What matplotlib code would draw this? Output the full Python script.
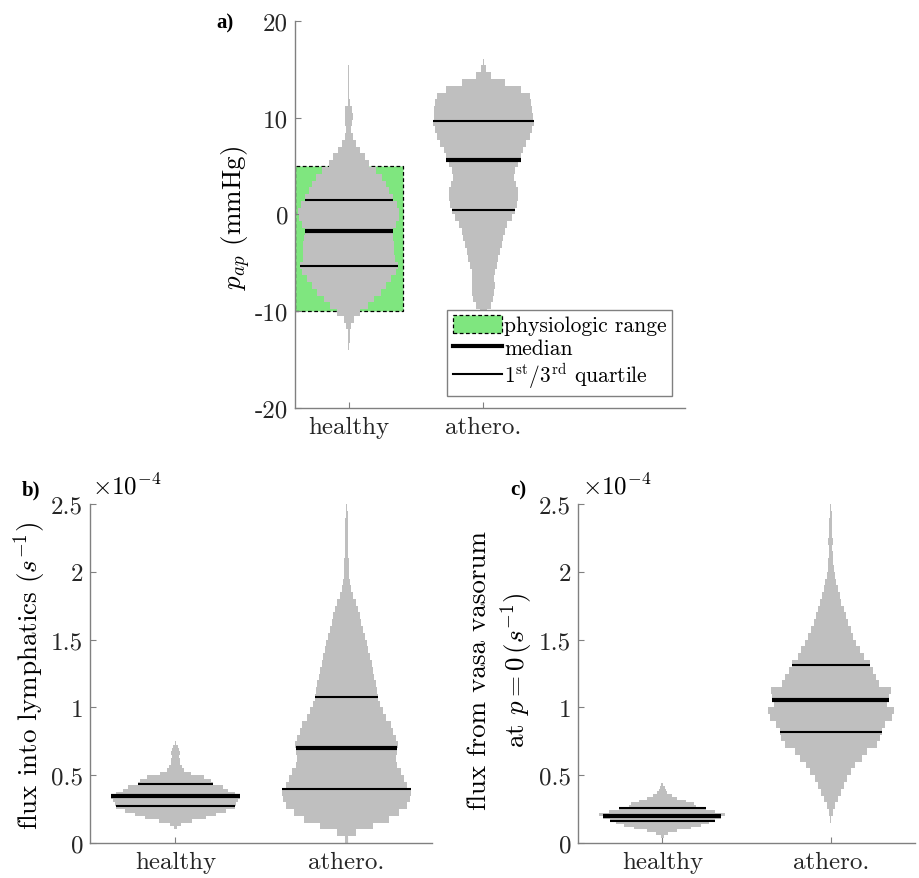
import numpy as np
import matplotlib
matplotlib.use("Agg")
import matplotlib.pyplot as plt
from matplotlib.patches import Rectangle, Patch
from matplotlib.lines import Line2D

plt.rcParams['font.family'] = 'cmr10'
plt.rcParams['mathtext.fontset'] = 'cm'
plt.rcParams['axes.unicode_minus'] = False

GRAY = '#bfbfbf'
GREEN = '#7fe67f'
SPINE = '#808080'
FS = 18

categories = ['healthy', 'athero.']

# a) p_ap (mmHg): histogram counts per bin (bins start at *_lo, width pap_step)
pap_step = 0.7
pap_healthy_lo = -14.0
pap_healthy_counts = [1, 1.5, 2, 5, 10, 23, 37, 50, 63, 73,
                      83, 93, 97, 91, 90, 90, 88, 87, 93, 99,
                      100, 95, 87, 79, 73, 65, 53, 40, 32, 22,
                      14, 8, 5, 7, 8, 7, 1.5, 1, 1, 1,
                      1, 0.8]
pap_healthy_q = [-5.31, -1.76, 1.51]
pap_athero_lo = -10.5
pap_athero_counts = [10, 22, 30, 33, 35, 33, 35, 40, 45, 50,
                     55, 60, 65, 72, 85, 95, 100, 103, 103, 98,
                     92, 95, 105, 112, 120, 130, 140, 147, 152, 150,
                     148, 145, 141, 112, 65, 22, 8, 2]
pap_athero_q = [0.45, 5.66, 9.63]
phys_range = [-10, 5]

# b) flux into lymphatics (x1e-4 s^-1)
lym_healthy_lo, lym_healthy_step = 0.10, 0.025
lym_healthy_counts = [3, 15, 50, 90, 120, 150, 175, 178, 185, 190,
                      175, 155, 140, 110, 105, 85, 45, 25, 18, 14,
                      12, 10, 12, 10, 6, 2]
lym_healthy_q = [0.275, 0.349, 0.435]
lym_athero_lo, lym_athero_step = 0.0, 0.05
lym_athero_counts = [5, 30, 80, 130, 160, 185, 193, 195, 183, 175,
                     165, 155, 150, 155, 158, 150, 140, 135, 120, 110,
                     102, 96, 93, 90, 85, 80, 76, 72, 66, 62,
                     57, 50, 45, 40, 35, 28, 20, 14, 12, 9,
                     8, 7, 6, 6, 5, 5, 4, 4, 3, 2]
lym_athero_q = [0.40, 0.70, 1.08]

# c) flux from vasa vasorum at p=0 (x1e-4 s^-1)
vv_healthy_lo, vv_healthy_step = 0.04, 0.02
vv_healthy_counts = [5, 18, 45, 85, 115, 140, 158, 178, 190, 160,
                     130, 100, 95, 70, 45, 28, 15, 10, 7, 3]
vv_healthy_q = [0.165, 0.20, 0.256]
vv_athero_lo, vv_athero_step = 0.15, 0.05
vv_athero_counts = [2, 6, 12, 22, 30, 40, 48, 62, 75, 95,
                    110, 140, 150, 155, 165, 185, 192, 172, 178, 182,
                    148, 138, 128, 118, 100, 90, 78, 68, 60, 52,
                    46, 40, 32, 28, 22, 17, 12, 9, 7, 6,
                    5, 7, 5, 4, 4, 3, 2]
vv_athero_q = [0.82, 1.055, 1.31]


def violin(ax, pos, lo, step, counts, quarts, scale=0.375):
    counts = np.asarray(counts, float)
    w = counts / counts.max() * scale
    edges = lo + step * np.arange(len(counts) + 1)
    y = np.repeat(edges, 2)[1:-1]
    x = np.repeat(w, 2)
    ax.fill_betweenx(y, pos - x, pos + x, color=GRAY, lw=0, zorder=2)
    for i, q in enumerate(quarts):
        k = int(np.clip(np.searchsorted(edges, q) - 1, 0, len(w) - 1))
        hw = w[k]
        ax.plot([pos - hw, pos + hw], [q, q], color='k',
                lw=3 if i == 1 else 1.5, solid_capstyle='butt', zorder=3)


def style(ax, xlim, ylim, yticks, ylabels):
    ax.set_xlim(xlim)
    ax.set_ylim(ylim)
    ax.set_xticks([1, 2])
    ax.set_xticklabels(categories)
    ax.set_yticks(yticks)
    ax.set_yticklabels(ylabels)
    for s in ['top', 'right']:
        ax.spines[s].set_visible(False)
    for s in ['left', 'bottom']:
        ax.spines[s].set_color(SPINE)
        ax.spines[s].set_linewidth(1)
    ax.tick_params(direction='in', length=4, width=0.8, color=SPINE,
                   labelcolor='#262626', labelsize=FS)
    ax.tick_params(axis='x', pad=6)
    ax.tick_params(axis='y', pad=5)


fig = plt.figure(figsize=(9.2, 8.79), dpi=100)

# panel a
ax1 = fig.add_axes([0.3207, 0.535, 0.424, 0.44])
ax1.add_patch(Rectangle((0.6, phys_range[0]), 0.8, phys_range[1] - phys_range[0],
                        facecolor=GREEN, edgecolor='k', ls=(0, (3, 2)), lw=0.9, zorder=1))
violin(ax1, 1, pap_healthy_lo, pap_step, pap_healthy_counts, pap_healthy_q)
violin(ax1, 2, pap_athero_lo, pap_step, pap_athero_counts, pap_athero_q)
style(ax1, (0.6, 3.5), (-20, 20), [-20, -10, 0, 10, 20], ['-20', '-10', '0', '10', '20'])
handles = [Patch(facecolor=GREEN, edgecolor='k', ls=(0, (3, 2)), lw=0.9),
           Line2D([], [], color='k', lw=3),
           Line2D([], [], color='k', lw=1.5)]
labels = ['physiologic range', 'median', r'$1^{\mathrm{st}}/3^{\mathrm{rd}}$ quartile']
leg = ax1.legend(handles, labels, loc='lower right', bbox_to_anchor=(0.967, 0.031),
                 borderaxespad=0, fontsize=15.5, frameon=True, fancybox=False,
                 edgecolor=SPINE, framealpha=1, handlelength=2.3, handleheight=0.9,
                 handletextpad=0.1, labelspacing=0.12, borderpad=0.25)
leg.get_frame().set_linewidth(1)

# panel b
ax2 = fig.add_axes([0.0978, 0.0398, 0.3718, 0.3857])
violin(ax2, 1, lym_healthy_lo, lym_healthy_step, lym_healthy_counts, lym_healthy_q)
violin(ax2, 2, lym_athero_lo, lym_athero_step, lym_athero_counts, lym_athero_q)
style(ax2, (0.5, 2.5), (0, 2.5), [0, 0.5, 1, 1.5, 2, 2.5], ['0', '0.5', '1', '1.5', '2', '2.5'])

# panel c
ax3 = fig.add_axes([0.6283, 0.0398, 0.3663, 0.3857])
violin(ax3, 1, vv_healthy_lo, vv_healthy_step, vv_healthy_counts, vv_healthy_q)
violin(ax3, 2, vv_athero_lo, vv_athero_step, vv_athero_counts, vv_athero_q)
style(ax3, (0.5, 2.5), (0, 2.5), [0, 0.5, 1, 1.5, 2, 2.5], ['0', '0.5', '1', '1.5', '2', '2.5'])

# labels
W, H = 920, 879
def ftext(x, y, s, **kw):
    fig.text(x / W, 1 - y / H, s, **kw)

ftext(236, 218, r'$p_{ap}$ (mmHg)', rotation=90, ha='center', va='center', fontsize=19.5)
ftext(30, 676, r'flux into lymphatics $(s^{-1})$', rotation=90, ha='center', va='center', fontsize=19.5)
ftext(501, 670, 'flux from vasa vasorum\n' + r'at $p=0\,(s^{-1})$', rotation=90,
      ha='center', va='center', fontsize=19.5, linespacing=1.25)
ftext(92, 487, r'$\times10^{-4}$', ha='left', va='center', fontsize=FS)
ftext(582, 487, r'$\times10^{-4}$', ha='left', va='center', fontsize=FS)
for x, y, s in [(225, 23, 'a)'), (31, 490, 'b)'), (518, 490, 'c)')]:
    ftext(x, y, s, ha='center', va='center', fontsize=15,
          family='Liberation Serif', weight='bold')

fig.savefig('out.png', dpi=100)
